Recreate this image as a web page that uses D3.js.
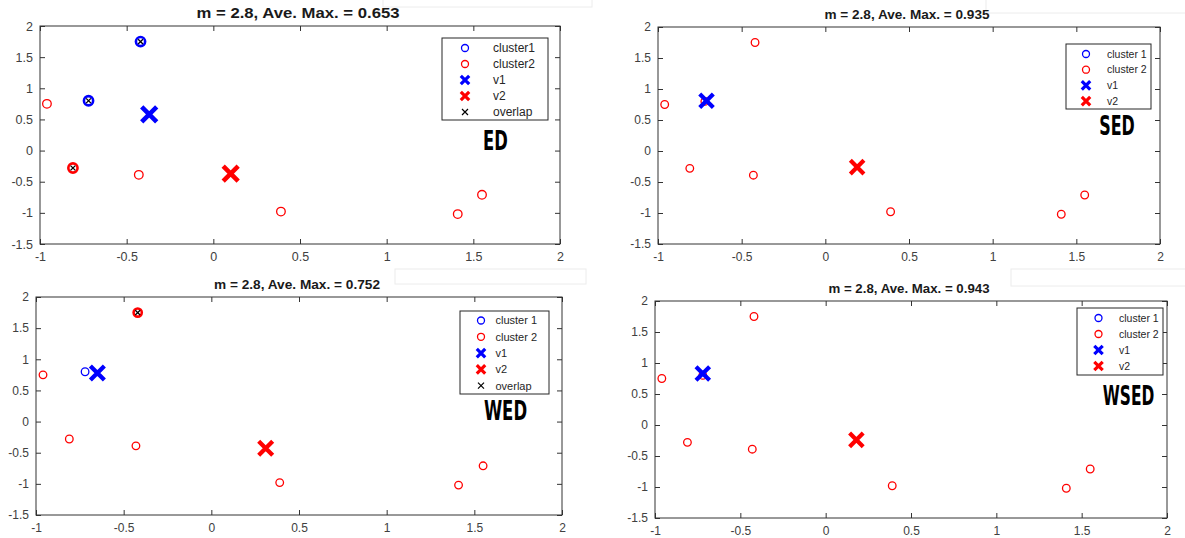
<!DOCTYPE html>
<html>
<head>
<meta charset="utf-8">
<script src="https://cdn.jsdelivr.net/npm/d3@7"></script>
<style>
  body { margin: 0; background: #fff; }
  svg { display: block; }
  .tick text { font-family: "Liberation Sans", Arial, sans-serif; fill: #404040; }
  .tick line { stroke: #333; }
  .legend text { font-family: "Liberation Sans", Arial, sans-serif; fill: #262626; }
</style>
</head>
<body>
<svg id="chart" width="1185" height="538"></svg>
<script>
// ---- data ----
var tickX = [-1, -0.5, 0, 0.5, 1, 1.5, 2];
var tickY = [-1.5, -1, -0.5, 0, 0.5, 1, 1.5, 2];

// the eight data points (same in every panel)
var pointX = [-0.96, -0.72, -0.42, -0.81, -0.43, 0.39, 1.41, 1.55];
var pointY = [0.75, 0.80, 1.75, -0.28, -0.39, -0.98, -1.02, -0.71];

// cluster membership and overlap flags, one array per method
var clusterED   = [2, 1, 1, 2, 2, 2, 2, 2];
var clusterSED  = [2, 2, 2, 2, 2, 2, 2, 2];
var clusterWED  = [2, 1, 2, 2, 2, 2, 2, 2];
var clusterWSED = [2, 2, 2, 2, 2, 2, 2, 2];
var overlapED   = [0, 1, 1, 1, 0, 0, 0, 0];
var overlapSED  = [0, 0, 0, 0, 0, 0, 0, 0];
var overlapWED  = [0, 0, 1, 0, 0, 0, 0, 0];
var overlapWSED = [0, 0, 0, 0, 0, 0, 0, 0];

// cluster centres v1, v2 per panel (ED, SED, WED, WSED)
var v1X = [-0.37, -0.71, -0.65, -0.72];
var v1Y = [0.58, 0.81, 0.78, 0.83];
var v2X = [0.10, 0.19, 0.31, 0.18];
var v2Y = [-0.37, -0.26, -0.43, -0.24];

var methods = ["ED", "SED", "WED", "WSED"];
var titles = [
    "m = 2.8, Ave. Max. = 0.653",
    "m = 2.8, Ave. Max. = 0.935",
    "m = 2.8, Ave. Max. = 0.752",
    "m = 2.8, Ave. Max. = 0.943"
];
var legendED   = ["cluster1", "cluster2", "v1", "v2", "overlap"];
var legendSED  = ["cluster 1", "cluster 2", "v1", "v2"];
var legendWED  = ["cluster 1", "cluster 2", "v1", "v2", "overlap"];
var legendWSED = ["cluster 1", "cluster 2", "v1", "v2"];

var clusters = [clusterED, clusterSED, clusterWED, clusterWSED];
var overlaps = [overlapED, overlapSED, overlapWED, overlapWSED];
var legends = [legendED, legendSED, legendWED, legendWSED];

// ---- layout of each panel (pixel boxes) ----
var layout = [
    {x0: 40, x1: 560, y0: 26, y1: 244, titleW: 203, titleFs: 14, tickFs: 12.5, r: 4.3, vh: 7.5, vw: 4.6,
     leg: {x: 442, y: 38, w: 106, h: 82, mx: 465, tx: 493, rowY: 48, rowH: 16, fs: 12},
     lab: {cx: 495.5, base: 150, fs: 26, sx: 0.7}},
    {x0: 658, x1: 1160, y0: 27, y1: 244, titleW: 165, titleFs: 13, tickFs: 12, r: 3.8, vh: 6.8, vw: 4.2,
     leg: {x: 1066, y: 44, w: 85, h: 65, mx: 1086, tx: 1107, rowY: 54, rowH: 15.7, fs: 10.5},
     lab: {cx: 1117, base: 135, fs: 26, sx: 0.68}},
    {x0: 36, x1: 562, y0: 297, y1: 515, titleW: 166, titleFs: 13, tickFs: 12, r: 3.8, vh: 7, vw: 4.3,
     leg: {x: 460, y: 311, w: 89, h: 83, mx: 481, tx: 495.5, rowY: 320.5, rowH: 16.3, fs: 11},
     lab: {cx: 505.5, base: 420, fs: 27, sx: 0.68}},
    {x0: 655, x1: 1167, y0: 301, y1: 518, titleW: 161, titleFs: 13, tickFs: 12, r: 3.8, vh: 6.8, vw: 4.2,
     leg: {x: 1077, y: 308, w: 86, h: 67, mx: 1098.5, tx: 1119, rowY: 318, rowH: 16, fs: 10.5},
     lab: {cx: 1128.5, base: 405, fs: 26, sx: 0.66}}
];

var BLUE = "#0000ff", RED = "#ff0000";
var svg = d3.select("#chart");

// faint leftovers of the pasted screenshots
var scraps = [[383, -1, 209, 8], [986, -1, 200, 14], [395, 269, 191, 15], [1011, 269, 175, 17]];
svg.selectAll("rect.scrap").data(scraps).enter().append("rect")
    .attr("class", "scrap")
    .attr("x", function(d) { return d[0]; }).attr("y", function(d) { return d[1]; })
    .attr("width", function(d) { return d[2]; }).attr("height", function(d) { return d[3]; })
    .attr("fill", "none").attr("stroke", "#ececec");

function xPath(h) {
    return "M" + (-h) + "," + (-h) + "L" + h + "," + h + "M" + (-h) + "," + h + "L" + h + "," + (-h);
}

function drawPanel(i) {
    var L = layout[i];
    var x = d3.scaleLinear().domain([-1, 2]).range([L.x0, L.x1]);
    var y = d3.scaleLinear().domain([-1.5, 2]).range([L.y1, L.y0]);
    var g = svg.append("g").attr("class", "panel");
    var fmt = function(d) { return String(d); };

    // axes, ticks pointing inward on all four sides
    g.append("g").attr("transform", "translate(0," + L.y1 + ")")
        .call(d3.axisBottom(x).tickValues(tickX).tickSize(-5).tickSizeOuter(0).tickPadding(8).tickFormat(fmt));
    g.append("g").attr("transform", "translate(" + L.x0 + ",0)")
        .call(d3.axisLeft(y).tickValues(tickY).tickSize(-5).tickSizeOuter(0).tickPadding(7).tickFormat(fmt));
    g.append("g").attr("transform", "translate(0," + L.y0 + ")")
        .call(d3.axisTop(x).tickValues(tickX).tickSize(-5).tickSizeOuter(0).tickFormat(""));
    g.append("g").attr("transform", "translate(" + L.x1 + ",0)")
        .call(d3.axisRight(y).tickValues(tickY).tickSize(-5).tickSizeOuter(0).tickFormat(""));
    g.selectAll(".domain").remove();
    g.selectAll(".tick text").attr("font-size", L.tickFs);

    g.append("rect")
        .attr("x", L.x0).attr("y", L.y0)
        .attr("width", L.x1 - L.x0).attr("height", L.y1 - L.y0)
        .attr("fill", "none").attr("stroke", "#333").attr("stroke-width", 1);

    // title
    g.append("text")
        .attr("x", (L.x0 + L.x1) / 2 - 2).attr("y", L.y0 - 8)
        .attr("text-anchor", "middle")
        .attr("font-family", "Liberation Sans, Arial, sans-serif")
        .attr("font-weight", "bold").attr("font-size", L.titleFs)
        .attr("textLength", L.titleW).attr("lengthAdjust", "spacingAndGlyphs")
        .attr("fill", "#1a1a1a")
        .text(titles[i]);

    // data points
    var cl = clusters[i], ov = overlaps[i];
    var idx = d3.range(pointX.length);
    g.selectAll("circle.pt").data(idx).enter().append("circle")
        .attr("class", "pt")
        .attr("cx", function(k) { return x(pointX[k]); })
        .attr("cy", function(k) { return y(pointY[k]); })
        .attr("r", function(k) { return ov[k] ? L.r + 0.3 : L.r; })
        .attr("fill", "none")
        .attr("stroke", function(k) { return cl[k] === 1 ? BLUE : RED; })
        .attr("stroke-width", function(k) { return ov[k] ? 2.6 : 1.3; });

    g.selectAll("path.ov").data(idx.filter(function(k) { return ov[k]; })).enter().append("path")
        .attr("class", "ov")
        .attr("transform", function(k) { return "translate(" + x(pointX[k]) + "," + y(pointY[k]) + ")"; })
        .attr("d", xPath(2.4))
        .attr("stroke", "#000").attr("stroke-width", 1.3).attr("fill", "none");

    // centres
    var centres = [
        {cx: v1X[i], cy: v1Y[i], c: BLUE},
        {cx: v2X[i], cy: v2Y[i], c: RED}
    ];
    g.selectAll("path.v").data(centres).enter().append("path")
        .attr("class", "v")
        .attr("transform", function(d) { return "translate(" + x(d.cx) + "," + y(d.cy) + ")"; })
        .attr("d", xPath(L.vh))
        .attr("stroke", function(d) { return d.c; })
        .attr("stroke-width", L.vw).attr("fill", "none");

    // legend
    var lg = L.leg;
    var lgG = g.append("g").attr("class", "legend");
    lgG.append("rect")
        .attr("x", lg.x).attr("y", lg.y).attr("width", lg.w).attr("height", lg.h)
        .attr("fill", "#fff").attr("stroke", "#262626").attr("stroke-width", 1);
    var items = legends[i];
    var row = lgG.selectAll("g.item").data(items).enter().append("g")
        .attr("class", "item")
        .attr("transform", function(d, k) { return "translate(0," + (lg.rowY + k * lg.rowH) + ")"; });
    row.append("text")
        .attr("x", lg.tx).attr("y", 0).attr("dy", "0.35em")
        .attr("font-size", lg.fs)
        .text(function(d) { return d; });
    row.each(function(d, k) {
        var r = d3.select(this);
        if (k < 2) {
            r.append("circle").attr("cx", lg.mx).attr("cy", 0).attr("r", 3.5)
                .attr("fill", "none").attr("stroke", k === 0 ? BLUE : RED).attr("stroke-width", 1.3);
        } else if (k < 4) {
            r.append("path").attr("transform", "translate(" + lg.mx + ",0)")
                .attr("d", xPath(4.2)).attr("stroke", k === 2 ? BLUE : RED)
                .attr("stroke-width", 3.2).attr("fill", "none");
        } else {
            r.append("path").attr("transform", "translate(" + lg.mx + ",0)")
                .attr("d", xPath(3)).attr("stroke", "#000")
                .attr("stroke-width", 1.2).attr("fill", "none");
        }
    });

    // method label
    var lab = L.lab;
    g.append("text")
        .attr("transform", "translate(" + lab.cx + "," + lab.base + ") scale(" + lab.sx + ",1)")
        .attr("text-anchor", "middle")
        .attr("font-family", "Liberation Sans Narrow, DejaVu Sans Condensed, sans-serif")
        .attr("font-weight", "bold").attr("font-size", lab.fs)
        .attr("fill", "#000")
        .text(methods[i]);
}

d3.range(4).forEach(drawPanel);
</script>
</body>
</html>
